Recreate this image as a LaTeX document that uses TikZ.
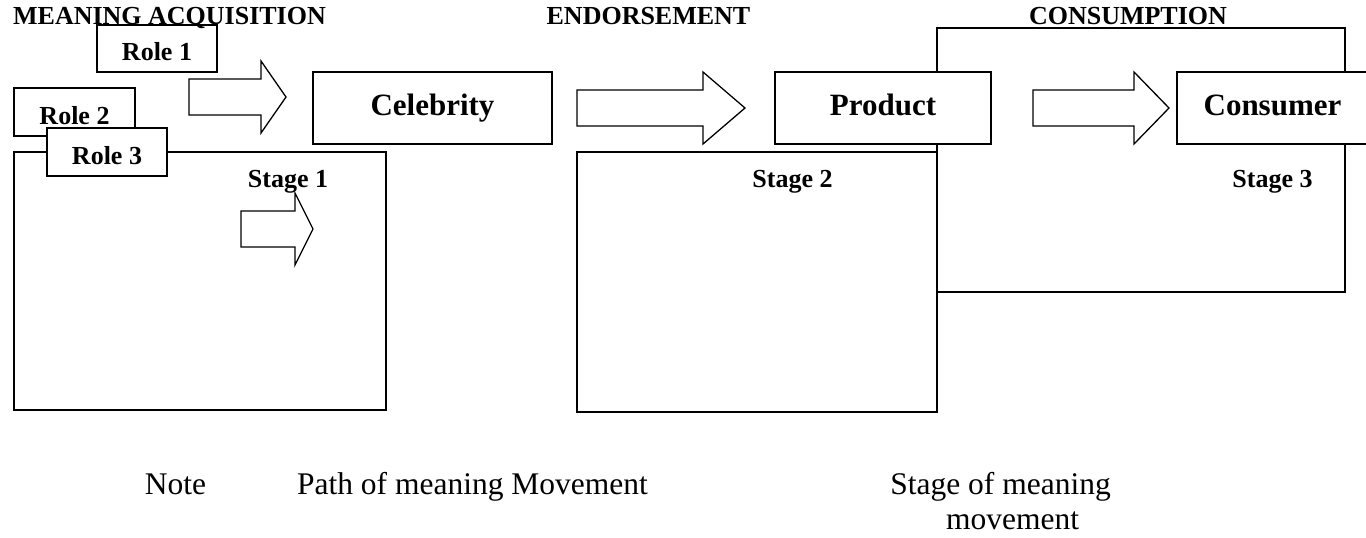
\documentclass[tikz,border=0pt]{standalone}
\usepackage{fontspec}
\setmainfont{Liberation Serif}
\newcommand{\meaningarrow}[4]{ % Takes tail x, head base x, tip x, centre y as arguments
    \draw[arrowline] (#1,#4-18) -- (#2,#4-18) -- (#2,#4-36) -- (#3,#4) -- (#2,#4+36) -- (#2,#4+18) -- (#1,#4+18) -- cycle;
}
\begin{document}
\begin{tikzpicture}[x=0.5pt, y=-0.5pt,
    boxline/.style={draw, line width=1pt},
    rolebox/.style={boxline, fill=white, inner sep=0pt, outer sep=0pt, minimum width=60pt, minimum height=24pt, font=\fontsize{13}{15}\selectfont\bfseries, text height=12pt, text depth=0pt},
    mainbox/.style={boxline, fill=white, inner sep=0pt, outer sep=0pt, minimum height=36pt, font=\fontsize{15.5}{18}\selectfont\bfseries, text height=10.6pt, text depth=3.4pt},
    heading/.style={anchor=base, inner sep=0pt, font=\fontsize{13}{15}\selectfont\bfseries},
    note/.style={anchor=base, inner sep=0pt, font=\fontsize{15.75}{19}\selectfont},
    arrowline/.style={draw, line width=0.65pt, line join=miter}]
    \useasboundingbox (0,0) rectangle (1366,537);

    % Stages
    \draw[boxline] (937,28) rectangle (1345,292);
    \draw[boxline] (577,152) rectangle (937,412);
    \draw[boxline] (14,152) rectangle (386,410);
    \node[heading] (stageone) at (288,187) {Stage 1};
    \node[heading] (stagetwo) at (792.5,187) {Stage 2};
    \node[heading] (stagethree) at (1272.5,187) {Stage 3};

    % Celebrity, product, consumer
    \node[mainbox, minimum width=119.5pt] (celebrity) at (432.5,108) {Celebrity};
    \node[mainbox, minimum width=108pt] (product) at (883,108) {Product};
    \node[mainbox, minimum width=95.5pt] (consumer) at (1272.5,108) {Consumer};

    % Roles
    \node[rolebox, minimum width=60.5pt] (roletwo) at (74.5,112) {Role 2};
    \node[rolebox] (rolethree) at (107,152) {Role 3};
    \node[rolebox, minimum height=23.5pt] (roleone) at (157,48.5) {Role 1};

    % Paths of meaning movement
    \meaningarrow{189}{261}{286}{97}
    \meaningarrow{577}{703}{745}{108}
    \meaningarrow{1033}{1134}{1169}{108}
    \meaningarrow{241}{295}{313}{229}

    % Headings
    \node[heading] (acquisition) at (169.5,24.5) {MEANING ACQUISITION};
    \node[heading] (endorsement) at (648.5,24.5) {ENDORSEMENT};
    \node[heading] (consumption) at (1128,24.5) {CONSUMPTION};

    % Note
    \node[note] (note) at (175.5,494) {Note};
    \node[note] (pathnote) at (472.5,494) {Path of meaning Movement};
    \node[note] (stagenote) at (1000.5,494) {Stage of meaning};
    \node[note] (movement) at (1012.5,529) {movement};
\end{tikzpicture}
\end{document}
